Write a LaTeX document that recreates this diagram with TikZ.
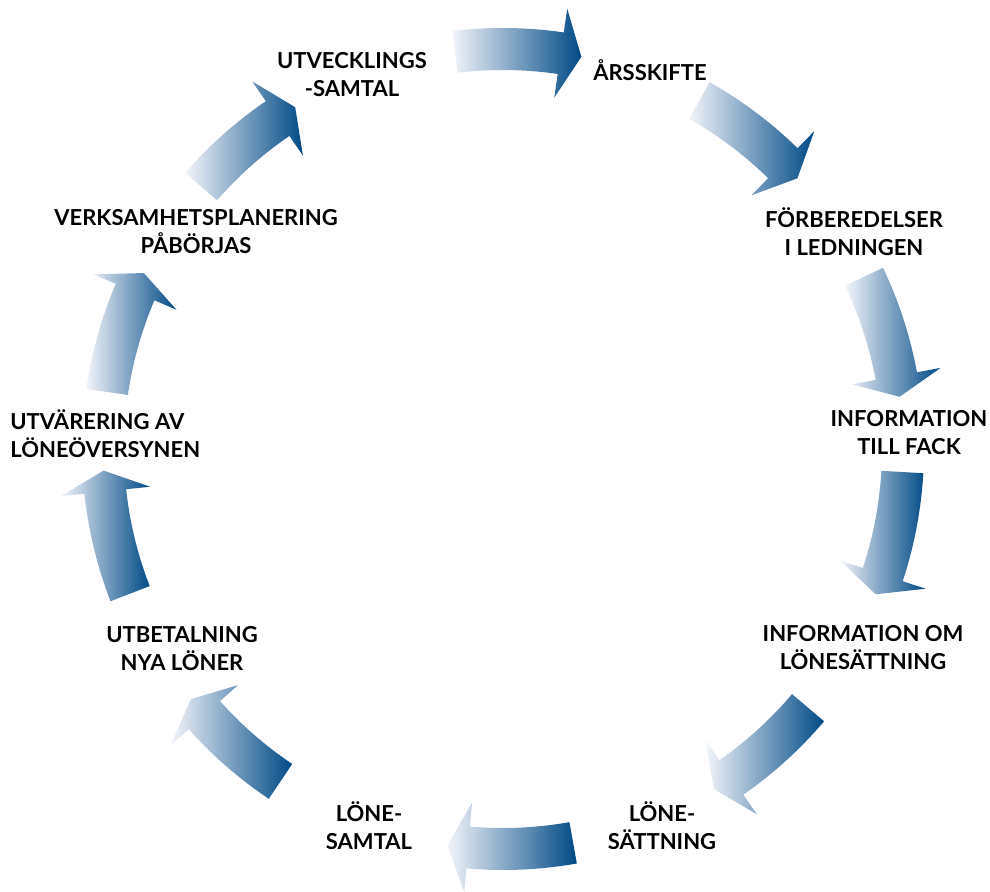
\documentclass[tikz,border=0pt]{standalone}
\usepackage{fontspec}
\setmainfont{Lato}
\usepackage{tikz}
\definecolor{arrowlight}{RGB}{242,244,250}
\definecolor{arrowdark}{RGB}{0,74,134}
\tikzset{
x=0.5pt, y=0.5pt, % one unit per pixel of the layout
phase/.style={font=\bfseries\fontsize{11}{14}\selectfont, align=center, inner sep=0pt}, % the labels round the circle
cycle arrow/.style={left color=arrowlight, right color=arrowdark}, % light on the left, dark on the right
}
% curved block arrow on the circle: #1 tail angle, #2 angle where the head starts
\newcommand{\cyclearrow}[2]{%
  \shade[cycle arrow] (#1:421) arc[start angle=#1, end angle=#2, radius=421]
    -- (#2:445) -- ({#2-3}:400) -- (#2:355) -- (#2:379)
    arc[start angle=#2, end angle=#1, radius=379] -- cycle;}

\begin{document}
\begin{tikzpicture}
\useasboundingbox (0,0) rectangle (990,891);

\node[phase] (utv) at (352,816) {UTVECKLINGS\\-SAMTAL};
\node[phase] (ars) at (650,821) {ÅRSSKIFTE};
\node[phase] (forb) at (854,659) {FÖRBEREDELSER\\I LEDNINGEN};
\node[phase] (infofack) at (909,458) {INFORMATION\\TILL FACK};
\node[phase] (infoom) at (863,243) {INFORMATION OM\\LÖNESÄTTNING};
\node[phase] (sattning) at (662,65) {LÖNE-\\SÄTTNING};
\node[phase] (samtal) at (369,65) {LÖNE-\\SAMTAL};
\node[phase] (utbet) at (182,242) {UTBETALNING\\NYA LÖNER};
\node[phase, anchor=west, align=left] (utvar) at (10,457) {UTVÄRERING AV\\LÖNEÖVERSYNEN};
\node[phase] (verks) at (196,659) {VERKSAMHETSPLANERING\\PÅBÖRJAS};

% the ten arrows, clockwise
\begin{scope}[shift={(503,442)}]
\foreach \tail/\head in {96.9/81.7, 60.6/45.6, 25.5/10.5, -3.3/-18.3, -40.3/-55.2,
    -79.9/-95, -123.8/-138.3, -158.8/-173.9, -188.2/-203.1, -221/-235.7}
  \cyclearrow{\tail}{\head};
\end{scope}
\end{tikzpicture}
\end{document}
